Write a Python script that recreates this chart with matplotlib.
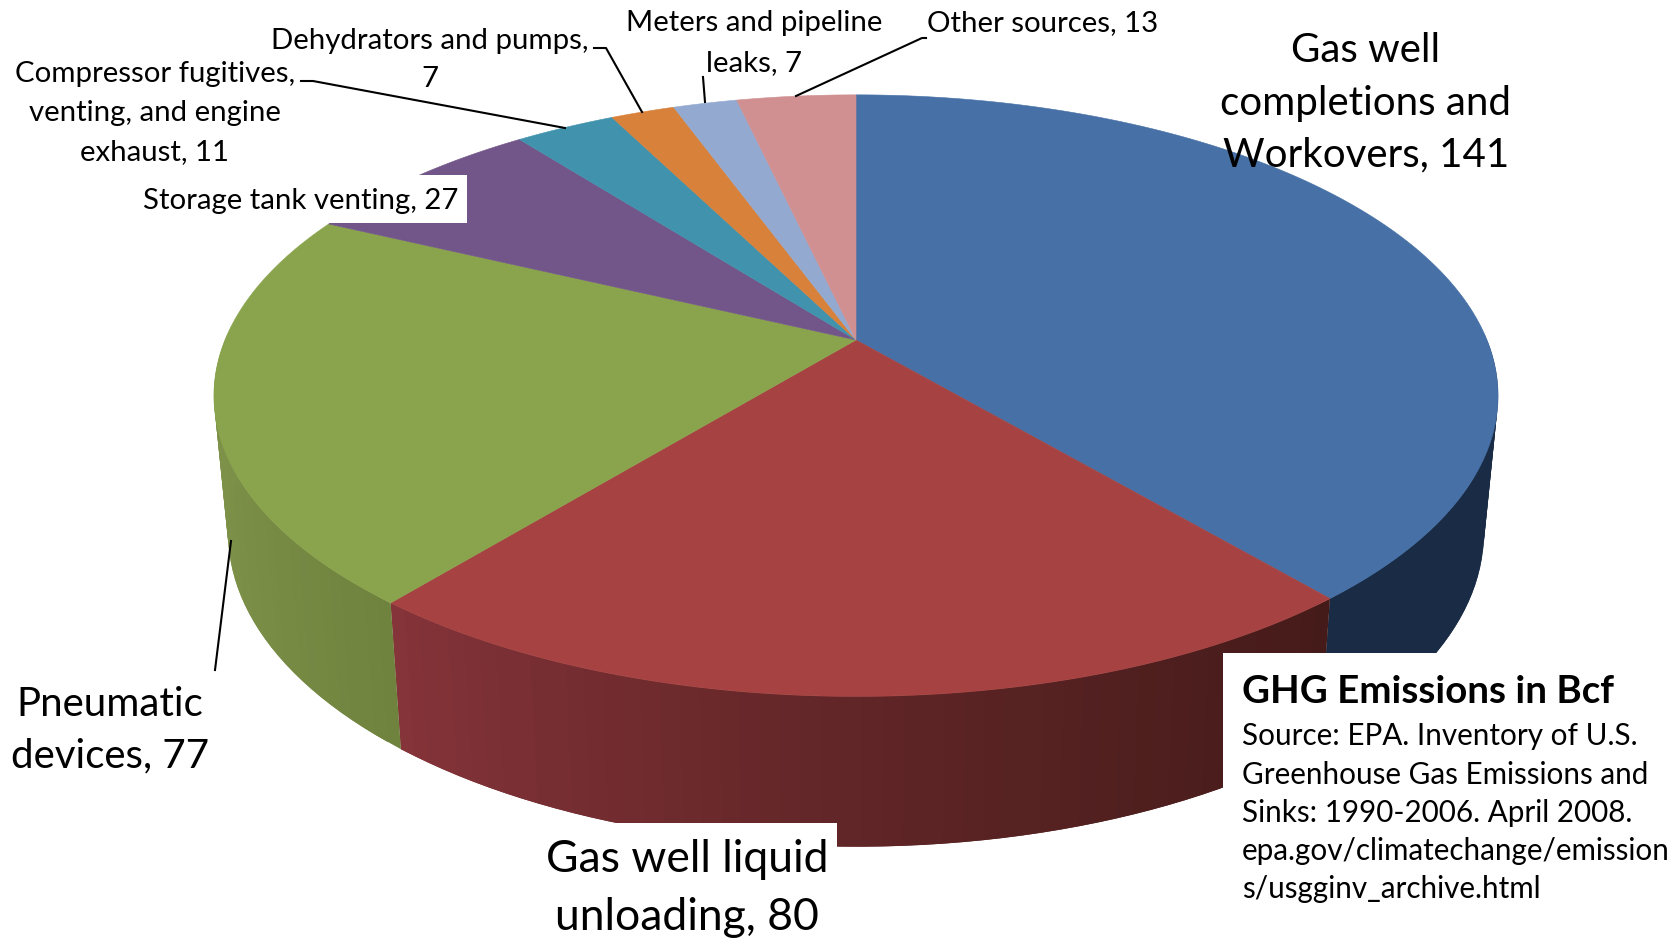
import numpy as np
import matplotlib
matplotlib.use("Agg")
import matplotlib.pyplot as plt
from matplotlib.collections import PolyCollection

plt.rcParams["font.family"] = ["Lato", "DejaVu Sans"]

# values in Bcf, clockwise from 12 o'clock
names = ["Gas well completions and Workovers", "Gas well liquid unloading",
         "Pneumatic devices", "Storage tank venting",
         "Compressor fugitives, venting, and engine exhaust",
         "Dehydrators and pumps", "Meters and pipeline leaks", "Other sources"]
values = [141, 80, 77, 27, 11, 7, 7, 13]

top_colors = ["#4670a6", "#a64342", "#8aa44d", "#725689",
              "#4193ad", "#d8813b", "#93a9cf", "#d09091"]
# side colours, left end / right end of each slice
side_left = ["#1a2c45", "#86343a", "#7d9149", "#5b456e",
             "#347689", "#ad672f", "#7687a6", "#a67374"]
side_right = ["#1a2c45", "#451b19", "#6f823e", "#5b456e",
              "#347689", "#ad672f", "#7687a6", "#a67374"]

# perspective of the pie, in pixels
cx, cy = 856, 340
f, g, k = 631, 290.5, 0.185
sx, sy, depth = 0.978, 1.043, 135


def top_pts(t):
    w = 1 + k * np.cos(t)
    return cx + f * np.sin(t) / w, cy - g * np.cos(t) / w


def bottom_pts(t):
    w = 1 + k * np.cos(t)
    return cx + sx * f * np.sin(t) / w, cy + depth - sy * g * np.cos(t) / w


def mix(c1, c2, a):
    c1 = np.array(matplotlib.colors.to_rgb(c1))
    c2 = np.array(matplotlib.colors.to_rgb(c2))
    return c1 + (c2 - c1) * a


fig = plt.figure(figsize=(16.81, 9.39), dpi=100)
ax = fig.add_axes([0, 0, 1, 1])
ax.set_xlim(0, 1681)
ax.set_ylim(939, 0)
ax.axis("off")

edges = np.concatenate([[0], np.cumsum(values)]) / sum(values) * 2 * np.pi

# sides first, only the front half of the rim, each quad runs one step over the next
for i in range(len(values)):
    n = max(int((edges[i + 1] - edges[i]) / np.radians(1.5)), 2)
    t = np.linspace(edges[i], edges[i + 1], n + 1)
    xt, yt = top_pts(t)
    xb, yb = bottom_pts(t)
    polys, cols = [], []
    x_lo, x_hi = xb.min(), xb.max()
    for j in range(n):
        if np.cos(t[j]) > 0 and np.cos(t[j + 1]) > 0:
            continue
        e = min(j + 2, n)
        polys.append([(xt[j], yt[j]), (xt[e], yt[e]), (xb[e], yb[e]), (xb[j], yb[j])])
        a = ((xb[j] + xb[j + 1]) / 2 - x_lo) / (x_hi - x_lo)
        cols.append(mix(side_left[i], side_right[i], a ** 0.8))
    ax.add_collection(PolyCollection(polys, facecolors=cols, edgecolors="none", zorder=1))

# top face
for i in range(len(values)):
    t = np.linspace(edges[i], edges[i + 1], 150)
    xt, yt = top_pts(t)
    ax.fill(np.r_[cx, xt], np.r_[cy, yt], color=top_colors[i], lw=0.4, zorder=2)

# white label backgrounds that cut into the pie
ax.fill([140, 467, 467, 140], [175, 175, 223, 223], color="white", lw=0, zorder=3)
ax.fill([540, 837, 837, 540], [823, 823, 939, 939], color="white", lw=0, zorder=3)
ax.fill([1223, 1681, 1681, 1223], [653, 653, 939, 939], color="white", lw=0, zorder=3)

# leader lines
lines_xy = [
    [(926, 38), (922, 38), (796, 96)],
    [(703, 77), (705, 102)],
    [(594, 48), (606, 48), (642, 112)],
    [(301, 81), (313, 81), (565, 128)],
    [(231, 541), (215, 670)],
]
for pts in lines_xy:
    ax.plot([p[0] for p in pts], [p[1] for p in pts], color="black", lw=1.5, zorder=4)

small = 21.2
big = 29
labels = [
    (1366, [50, 103, 155], ["Gas well", "completions and", "Workovers, 141"], big),
    (687, [860, 917], ["Gas well liquid", "unloading, 80"], 32),
    (110, [704, 756], ["Pneumatic", "devices, 77"], big),
    (301, [201], ["Storage tank venting, 27"], small),
    (155, [74, 113, 152], ["Compressor fugitives,", "venting, and engine", "exhaust, 11"], small),
    (430, [41, 79], ["Dehydrators and pumps,", "7"], small),
    (754, [23, 63], ["Meters and pipeline", "leaks, 7"], small),
    (1043, [23], ["Other sources, 13"], small),
]
for x, ys, lines, size in labels:
    for y, s in zip(ys, lines):
        ax.text(x, y, s, fontsize=size, ha="center", va="center", color="black", zorder=5)

ax.text(1242, 692, "GHG Emissions in Bcf", fontsize=27.7, fontweight="bold", va="center", zorder=5)
source_lines = ["Source: EPA. Inventory of U.S.", "Greenhouse Gas Emissions and",
                "Sinks: 1990-2006. April 2008.", "epa.gov/climatechange/emission",
                "s/usgginv_archive.html"]
for y, s in zip([736, 775, 813, 851, 889], source_lines):
    ax.text(1242, y, s, fontsize=21.3, va="center", zorder=5)

fig.savefig("out.png", dpi=100)
